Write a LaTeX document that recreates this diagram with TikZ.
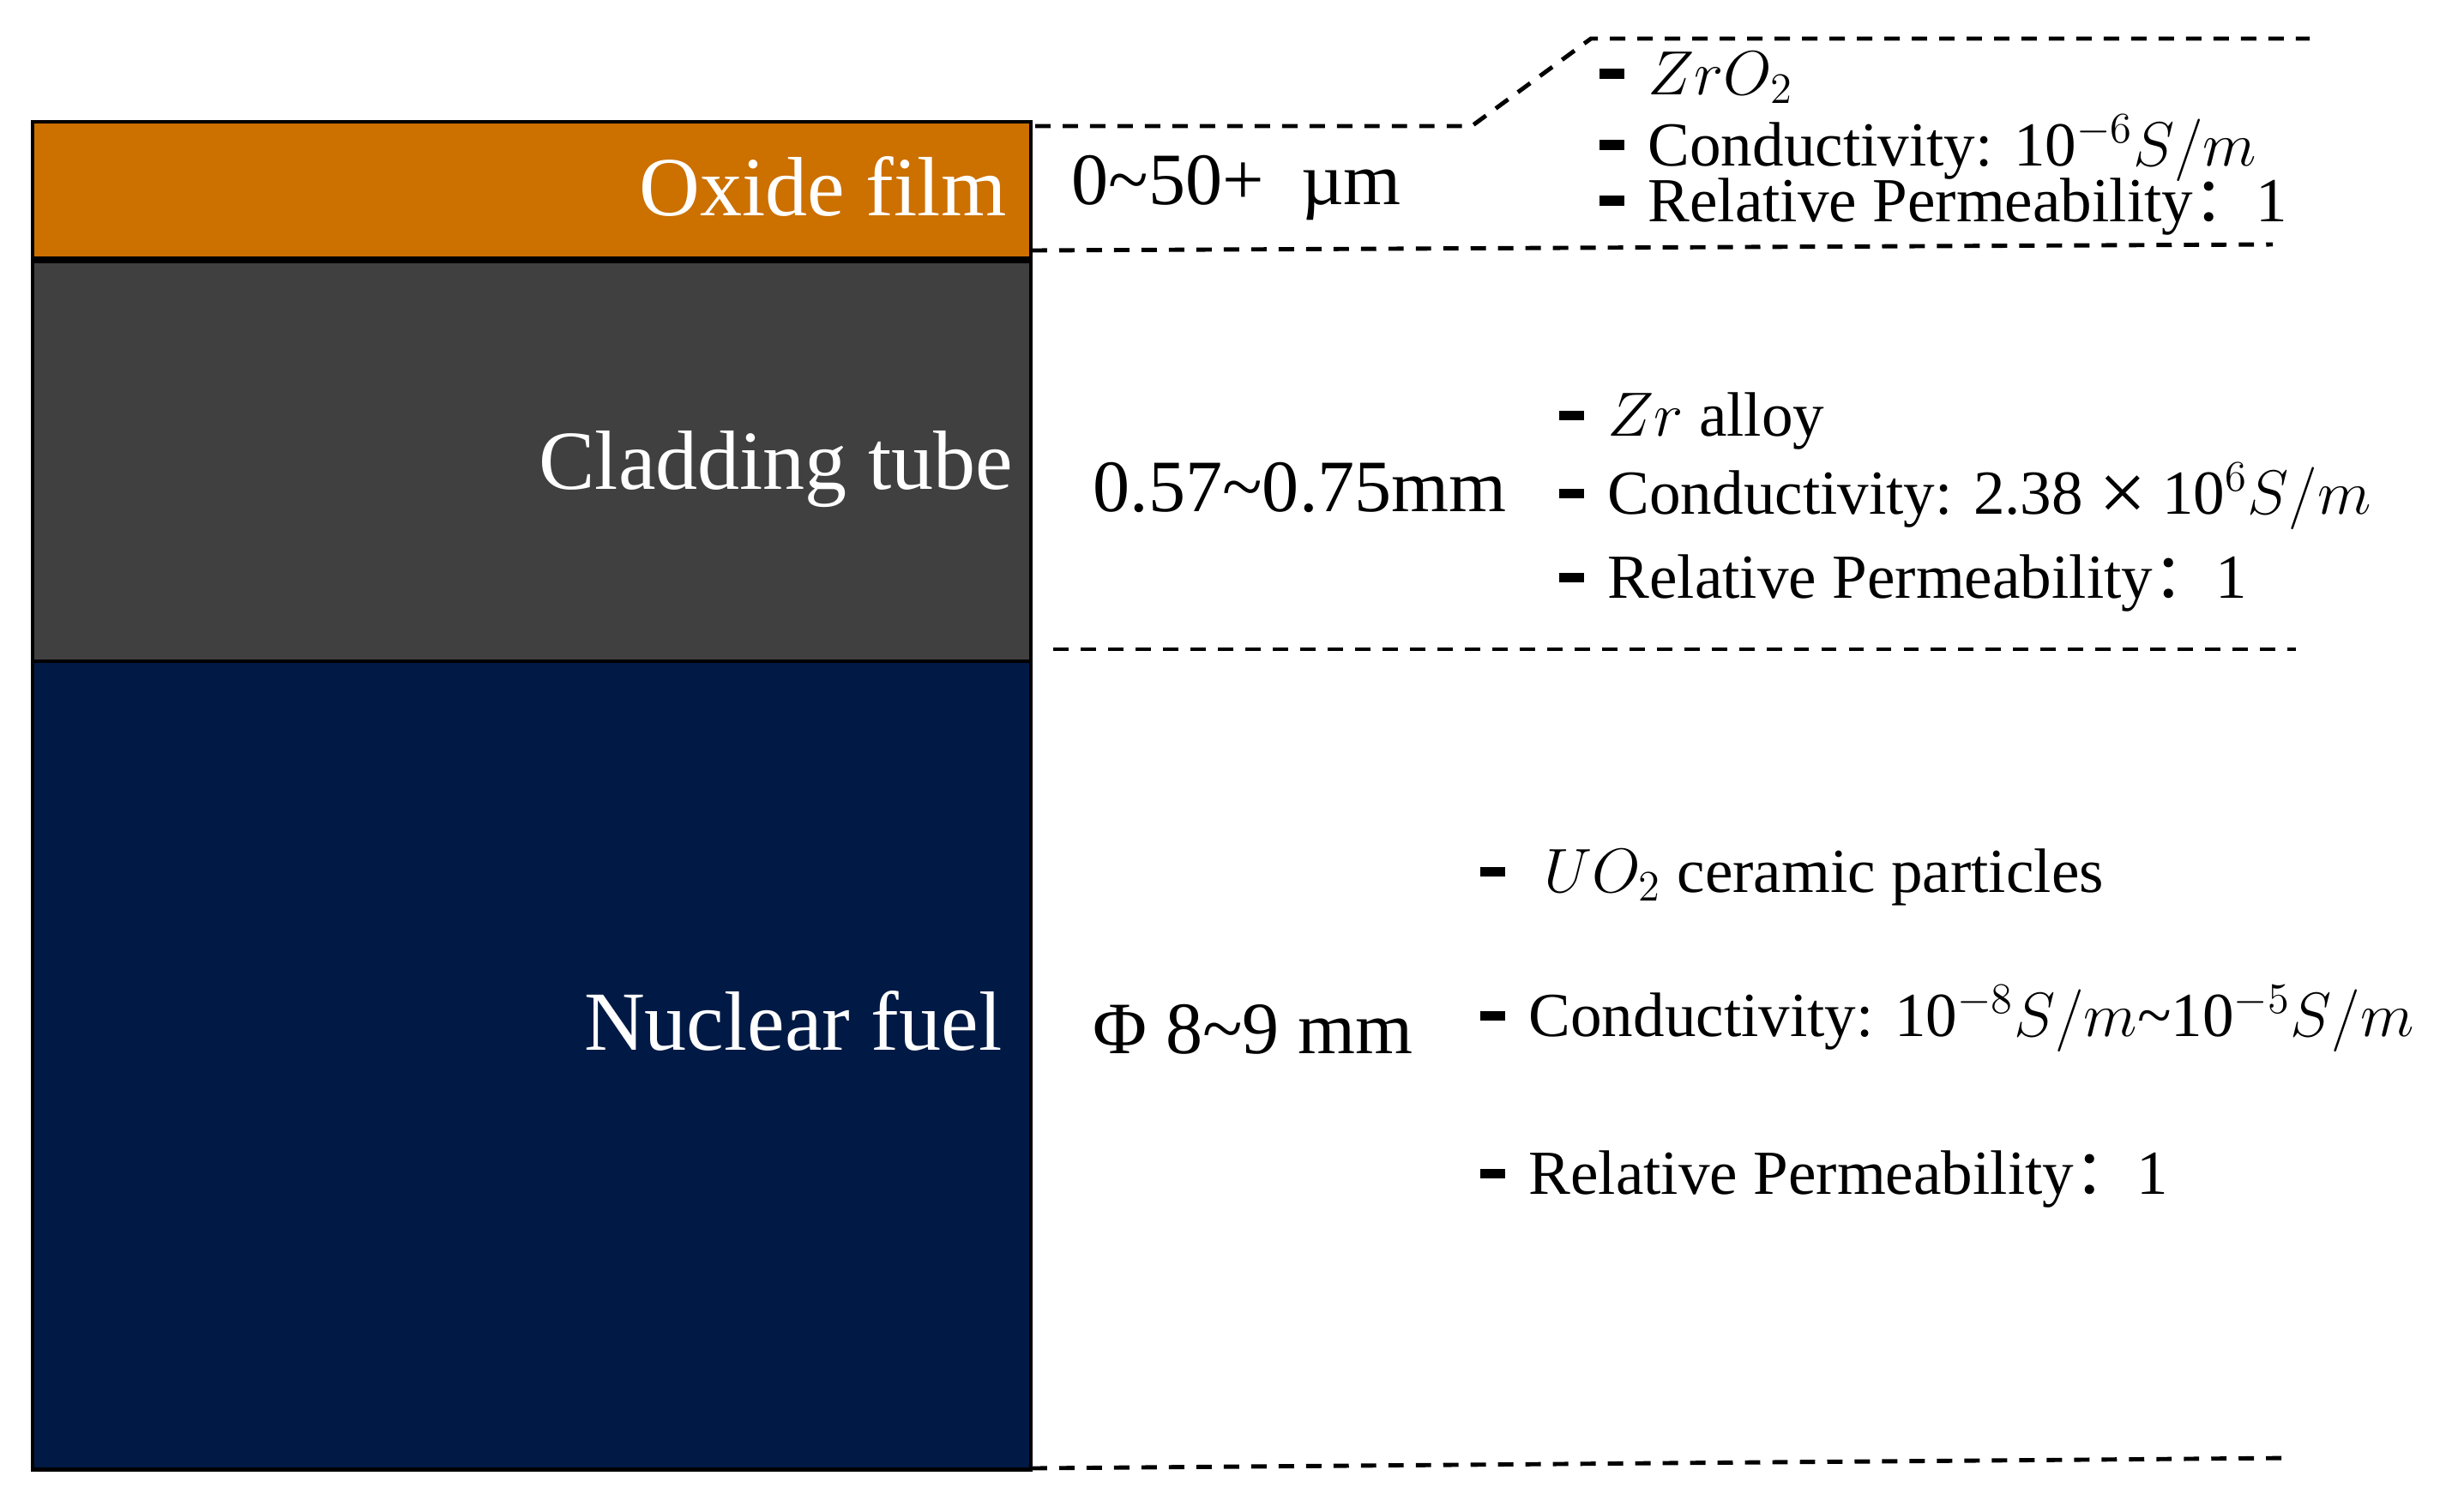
\documentclass[tikz,border=0pt]{standalone}
\usepackage{fontspec}
\setmainfont{Liberation Serif}
\newfontfamily\cjk{Noto Sans CJK SC}

\definecolor{oxidecol}{HTML}{CC7000}
\definecolor{cladcol}{HTML}{404040}
\definecolor{fuelcol}{HTML}{001A45}

% short thick dash in front of each property line
\newcommand{\propbar}{\rule[5pt]{8.2pt}{3.4pt}\hspace{8pt}}
\newcommand{\fwcolon}{{\cjk ：}}
\newcommand{\bigtimes}{\raisebox{-2.5pt}{\fontsize{28}{28}\selectfont ×}}

\tikzset{
  layer/.style={draw=black, line width=1.4pt},
  sepline/.style={line width=1.4pt, dash pattern=on 5.1pt off 4pt},
  layername/.style={anchor=base east, inner sep=0pt, text=white,
    font=\fontsize{27.9}{30}\selectfont},
  sizelabel/.style={anchor=base west, inner sep=0pt,
    font=\fontsize{24.5}{27}\selectfont},
  proptext/.style={anchor=base west, inner sep=0pt,
    font=\fontsize{20.8}{23}\selectfont}
}

\begin{document}
\begin{tikzpicture}[x=1cm, y=-1cm]
  \useasboundingbox (0,0) rectangle (28.73,17.48);

  % layers
  \fill[oxidecol] (0.38,1.42) rectangle (12.02,3.03);
  \fill[cladcol] (0.38,3.03) rectangle (12.02,7.71);
  \fill[fuelcol] (0.38,7.71) rectangle (12.02,17.13);
  \draw[layer] (0.38,1.42) rectangle (12.02,17.13);
  \draw[black, line width=2.3pt] (0.38,3.03) -- (12.02,3.03);
  \draw[layer] (0.38,7.71) -- (12.02,7.71);

  \node[layername] (oxname) at (11.74,2.51) {Oxide film};
  \node[layername] (cladname) at (11.82,5.70) {Cladding tube};
  \node[layername] (fuelname) at (11.69,12.24) {Nuclear fuel};

  % separators
  \draw[sepline] (12.07,1.47) -- (17.16,1.47) -- (18.55,0.45) -- (26.93,0.45);
  \draw[sepline] (12.03,2.92) -- (26.50,2.85);
  \draw[sepline] (12.28,7.57) -- (26.77,7.57);
  \draw[sepline] (12.03,17.12) -- (26.70,17.00);

  % thicknesses
  \node[sizelabel] (oxsize) at (12.49,2.38) {0\textasciitilde 50+\ \ µm};
  \node[sizelabel] (cladsize) at (12.74,5.96) {0.57\textasciitilde 0.75mm};
  \node[sizelabel] (fuelsize) at (12.74,12.28) {Φ 8\textasciitilde 9 mm};

  % oxide properties
  \node[proptext] (oxmat) at (18.64,1.10) {\propbar$ZrO_2$};
  \node[proptext] (oxcond) at (18.64,1.93) {\propbar Conductivity: 10$^{-6}S/m$};
  \node[proptext] (oxperm) at (18.64,2.58) {\propbar Relative Permeability\fwcolon 1};

  % cladding properties
  \node[proptext] (cladmat) at (18.17,5.08) {\propbar$Zr$ alloy};
  \node[proptext] (cladcond) at (18.17,5.99) {\propbar Conductivity: 2.38 \bigtimes\ 10$^{6}S/m$};
  \node[proptext] (cladperm) at (18.17,6.97) {\propbar Relative Permeability\fwcolon 1};

  % fuel properties
  \node[proptext] (fuelmat) at (17.25,10.40) {\propbar\hspace{5pt}$UO_2$\ ceramic particles};
  \node[proptext] (fuelcond) at (17.25,12.08) {\propbar Conductivity: 10$^{-8}S/m$\textasciitilde 10$^{-5}S/m$};
  \node[proptext] (fuelperm) at (17.25,13.92) {\propbar Relative Permeability\fwcolon 1};
\end{tikzpicture}
\end{document}
